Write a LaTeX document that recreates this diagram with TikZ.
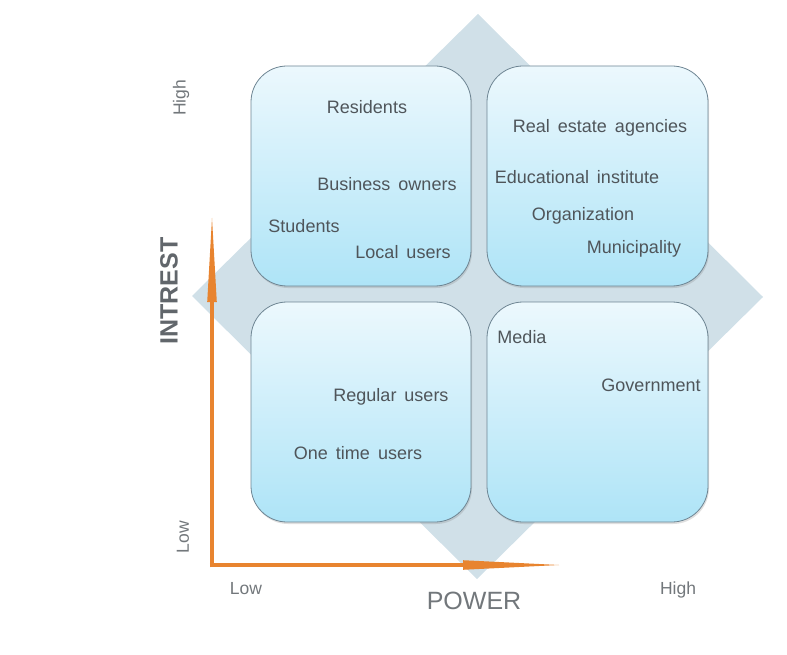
\documentclass[tikz,border=0pt]{standalone}
\usepackage{fontspec}
\setmainfont{Liberation Sans}
\usetikzlibrary{shadows}
\definecolor{diam}{HTML}{D0E0E8}
\definecolor{boxtop}{HTML}{ECF8FD}
\definecolor{boxbot}{HTML}{AEE4F7}
\definecolor{boxline}{HTML}{6E8593}
\definecolor{txt}{HTML}{4F555A}
\definecolor{axis}{HTML}{E8842F}
\begin{document}
\begin{tikzpicture}[x=1pt,y=-1pt,
  quad/.style={draw=boxline, line width=0.8pt, rounded corners=36pt,
    top color=boxtop, bottom color=boxbot,
    drop shadow={opacity=0.25, shadow xshift=1pt, shadow yshift=-2pt}},
  lbl/.style={font=\fontsize{18}{21}\selectfont, text=txt, inner sep=0pt},
  axlbl/.style={font=\fontsize{17.5}{20}\selectfont, text=txt!80, inner sep=0pt},
  axisline/.style={draw=axis, line width=4.5pt},
  axishead/.style={fill=axis}]
\useasboundingbox (0,0) rectangle (787,655);
% background diamond
\fill[diam] (478,14) -- (763,297) -- (477,579) -- (192,296) -- cycle;
% quadrants
\path[quad] (251,66) rectangle (471,286);
\path[quad] (487,66) rectangle (708,286);
\path[quad] (251,302) rectangle (471,522);
\path[quad] (487,302) rectangle (708,522);
% labels in quadrants
\node[lbl] (res) at (367,107) {Residents};
\node[lbl] (bus) at (387,184) {Business\, owners};
\node[lbl] (stu) at (304,226) {Students};
\node[lbl] (loc) at (403,252) {Local\, users};
\node[lbl] (rea) at (600,128) {Real\, estate\, agencies};
\node[lbl] (edu) at (577,177) {Educational\, institute};
\node[lbl] (org) at (583,216) {Organization};
\node[lbl] (mun) at (634,249) {Municipality};
\node[lbl] (med) at (522,337) {Media};
\node[lbl] (gov) at (651,385) {Government};
\node[lbl] (reg) at (391,397) {Regular\, users};
\node[lbl] (one) at (358,453) {One\, time\, users};
% axes
\coordinate (origin) at (212,565);
\coordinate (ybase) at (212,302);
\coordinate (ytip) at (212,218);
\coordinate (xbase) at (463,565);
\coordinate (xtip) at (559,565);
\draw[axisline] ([yshift=-2.25pt]origin) -- (ybase);
\draw[axisline] ([xshift=-2.25pt]origin) -- (xbase);
\fill[axishead] (ytip) -- ([xshift=4.8pt]ybase) -- ([xshift=-4.8pt]ybase) -- cycle;
\fill[axishead] (xtip) -- ([yshift=-4.8pt]xbase) -- ([yshift=4.8pt]xbase) -- cycle;
% axis labels
\node[axlbl, rotate=90] (hiy) at (181,98) {High};
\node[axlbl, rotate=90] (loy) at (183,537) {Low};
\node[axlbl] (lox) at (246,589) {Low};
\node[axlbl] (hix) at (678,590) {High};
\node[font=\fontsize{25}{28}\selectfont\bfseries, text=txt!90, rotate=90, inner sep=0pt] (int) at (169,291) {INTREST};
\node[font=\fontsize{25}{28}\selectfont, text=txt!80, inner sep=0pt] (pow) at (474,601) {POWER};
\end{tikzpicture}
\end{document}
